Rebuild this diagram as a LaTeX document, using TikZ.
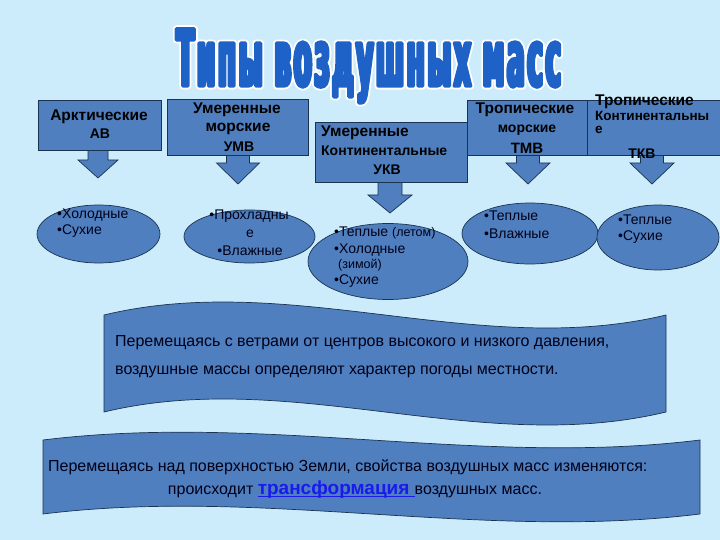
\documentclass[tikz,border=0pt]{standalone}
\usepackage{fontspec}
\setmainfont{Liberation Sans}
\newfontfamily\titlefont{DejaVu Sans}[FakeStretch=0.34, LetterSpace=3]
\usetikzlibrary{shapes.geometric}
\definecolor{bgc}{HTML}{CCECFC}
\definecolor{fillc}{HTML}{4F7FBE}
\definecolor{edgec}{HTML}{1B3350}
\definecolor{ttlblue}{HTML}{1E62C8}
\definecolor{linkc}{HTML}{1A1AEE}
\newcommand{\ttltext}[1]{\raisebox{0pt}[\height][0pt]{\resizebox{385pt}{!}{\special{pdf:literal direct 2 Tr #1 w 1 j}\titlefont\fontsize{78}{80}\selectfont\bfseries Типы воздушных масс\special{pdf:literal direct 0 Tr}}}}
\newcommand{\ulin}[1]{\setbox0\hbox{#1}\rlap{\rule[-2pt]{\wd0}{1.3pt}}\box0}
\newcommand{\blockarr}[6]{% cx, ytop, yhead, ytip, shaft half, head half
  \filldraw[shp] (#1-#5,#2) -- (#1+#5,#2) -- (#1+#5,#3) -- (#1+#6,#3) -- (#1,#4) -- (#1-#6,#3) -- (#1-#5,#3) -- cycle;}
\tikzset{
  shp/.style={fill=fillc, draw=edgec, line width=0.7pt},
  boxn/.style={shp, rectangle, anchor=north west, inner sep=0pt},
  elln/.style={shp, ellipse, inner sep=0pt},
  bt/.style={font=\fontsize{15.5}{17}\selectfont\bfseries, inner sep=0pt, text=black},
  bcap/.style={font=\fontsize{14}{16}\selectfont\bfseries, inner sep=0pt, text=black},
  bts/.style={font=\fontsize{14}{15}\selectfont\bfseries, inner sep=0pt, text=black},
  et/.style={font=\fontsize{14}{16}\selectfont, inner sep=0pt, text=black!90!blue, anchor=west},
  ets/.style={font=\fontsize{12.5}{13}\selectfont, inner sep=0pt, text=black!90!blue},
  bant/.style={font=\fontsize{16}{18}\selectfont, inner sep=0pt, text=black!90!blue, anchor=west},
  tl/.style={inner sep=0pt, anchor=base west}
}
\begin{document}
\begin{tikzpicture}[x=1pt,y=-1pt]
\useasboundingbox (0,0) rectangle (720,540);
\fill[bgc] (0,0) rectangle (720,540);
% title: white halo layer, then blue letters
\node[tl, text=white] (ttlw) at (176,86) {\ttltext{7}};
\node[tl, text=ttlblue] (ttlb) at (176,86) {\ttltext{3.4}};
% block arrows
\blockarr{98}{148}{160}{178}{10}{20}
\blockarr{238}{153}{163}{184}{11.5}{21.5}
\blockarr{390}{180}{195}{213}{12}{22}
\blockarr{528}{153}{163}{184}{11.5}{22}
\blockarr{652}{153}{163}{184}{11.5}{22}
% boxes
\node[boxn, minimum width=123pt, minimum height=50pt] (b1) at (38,100) {};
\node[boxn, minimum width=141pt, minimum height=56pt] (b2) at (167,99) {};
\node[boxn, minimum width=152pt, minimum height=60pt] (b3) at (315,122) {};
\node[boxn, minimum width=120pt, minimum height=55pt] (b4) at (467,100) {};
\node[boxn, minimum width=132.5pt, minimum height=55pt] (b5) at (587,100) {};
% box texts
\node[bt] (b1a) at (99,117) {Арктические};
\node[bcap] (b1b) at (100,134) {АВ};
\node[bt] (b2a) at (237,110) {Умеренные};
\node[bt] (b2b) at (238,129) {морские};
\node[bcap] (b2c) at (239,147) {УМВ};
\node[bt, anchor=west] (b3a) at (321,133) {Умеренные};
\node[bts, anchor=west] (b3b) at (321,151) {Континентальные};
\node[bcap] (b3c) at (387,170) {УКВ};
\node[bt] (b4a) at (525,110) {Тропические};
\node[bts] (b4b) at (527,130) {морские};
\node[bcap, font=\fontsize{15}{17}\selectfont\bfseries] (b4c) at (527,148) {ТМВ};
\node[bt, anchor=west] (b5a) at (595,102) {Тропические};
\node[bts, font=\fontsize{13.5}{15}\selectfont\bfseries, anchor=west] (b5b) at (595,116) {Континентальны};
\node[bts, font=\fontsize{13.5}{15}\selectfont\bfseries, anchor=west] (b5c) at (595,130) {е};
\node[bcap] (b5d) at (642,154) {ТКВ};
% ellipses
\node[elln, minimum width=123pt, minimum height=58pt] (e1) at (98.5,234) {};
\node[elln, minimum width=131pt, minimum height=53pt] (e2) at (249.5,236.5) {};
\node[elln, minimum width=160pt, minimum height=76pt] (e3) at (388,261.5) {};
\node[elln, minimum width=136pt, minimum height=61pt] (e4) at (530,233.5) {};
\node[elln, minimum width=122pt, minimum height=65pt] (e5) at (658,237.5) {};
% ellipse texts
\node[et] (e1a) at (57,215) {•Холодные};
\node[et] (e1b) at (57,231) {•Сухие};
\node[et, anchor=center] (e2a) at (249,216) {•Прохладны};
\node[et, anchor=center] (e2b) at (250,234) {е};
\node[et, anchor=center] (e2c) at (250,251) {•Влажные};
\node[et] (e3a) at (334,233) {•Теплые {\fontsize{12.5}{13}\selectfont(летом)}};
\node[et] (e3b) at (334,250) {•Холодные};
\node[ets, anchor=west] (e3c) at (338,265) {(зимой)};
\node[et] (e3d) at (334,281) {•Сухие};
\node[et] (e4a) at (484,216) {•Теплые};
\node[et] (e4b) at (484,234) {•Влажные};
\node[et] (e5a) at (618,220) {•Теплые};
\node[et] (e5b) at (618,237) {•Сухие};
% banners
\filldraw[shp] (104,315) .. controls (291,270) and (479,360) .. (666,315) -- (666,412) .. controls (479,457) and (291,367) .. (104,412) -- cycle;
\filldraw[shp] (43,440) .. controls (262,413) and (481,467) .. (700,440) -- (700,514) .. controls (481,541) and (262,487) .. (43,514) -- cycle;
\node[bant] (p1) at (115,343) {Перемещаясь с ветрами от центров высокого и низкого давления,};
\node[bant] (p2) at (115,372) {воздушные массы определяют характер погоды местности.};
\node[bant] (p3) at (48,467) {Перемещаясь над поверхностью Земли, свойства воздушных масс изменяются:};
\node[bant, anchor=center] (p4) at (355,490) {происходит {\color{linkc}\fontsize{19}{20}\selectfont\bfseries\ulin{трансформация\ }}воздушных масс.};
\end{tikzpicture}
\end{document}
